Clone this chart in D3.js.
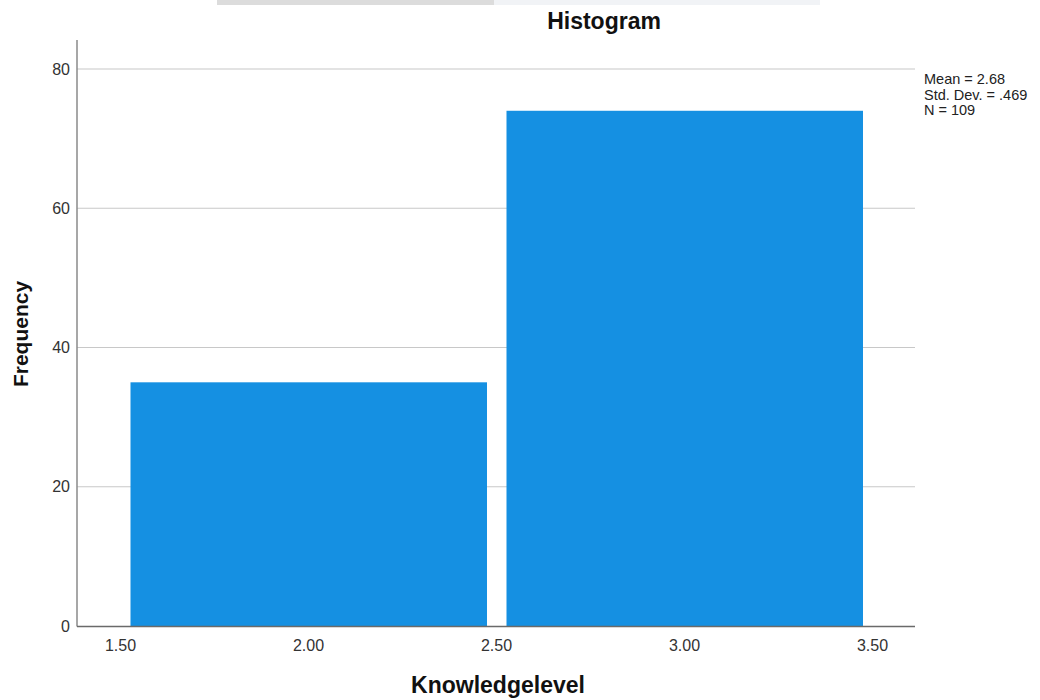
<!DOCTYPE html>
<html><head><meta charset="utf-8">
<script src="https://cdn.jsdelivr.net/npm/d3@7/dist/d3.min.js"></script>
<style>body{margin:0;background:#fff;} text{font-family:"Liberation Sans",Arial,sans-serif;}</style>
</head><body><svg id="c" width="1040" height="700"></svg>
<script>
const binStarts = [1.5, 2.5];
const binEnds = [2.5, 3.5];
const frequencies = [35, 74];
const xTicks = [1.5, 2.0, 2.5, 3.0, 3.5];
const yTicks = [0, 20, 40, 60, 80];
const statsLines = ["Mean = 2.68", "Std. Dev. = .469", "N = 109"];

const svg = d3.select("#c");
// screenshot artifact at top
svg.append("rect").attr("x",217).attr("y",0).attr("width",277).attr("height",5).attr("fill","#dcdcdc");
svg.append("rect").attr("x",494).attr("y",0).attr("width",326).attr("height",5).attr("fill","#f1f3f6");

const x = d3.scaleLinear().domain([1.5,3.5]).range([120.5,872.5]);
const y = d3.scaleLinear().domain([0,80]).range([626,69]);
const left=77, right=915;

// gridlines
svg.append("g").selectAll("line").data(yTicks.filter(d=>d>0)).join("line")
  .attr("x1",left).attr("x2",right).attr("y1",d=>y(d)).attr("y2",d=>y(d))
  .attr("stroke","#c8c8c8").attr("stroke-width",1.2);

// bars
svg.append("g").selectAll("rect").data(frequencies).join("rect")
  .attr("x",(d,i)=>x(binStarts[i])+10)
  .attr("width",(d,i)=>x(binEnds[i])-x(binStarts[i])-19.5)
  .attr("y",d=>y(d)).attr("height",d=>y(0)-y(d))
  .attr("fill","#1590e2");

// axes lines
svg.append("line").attr("x1",left).attr("x2",left).attr("y1",40).attr("y2",626.5).attr("stroke","#8a8a8a").attr("stroke-width",1.5);
svg.append("line").attr("x1",left).attr("x2",right).attr("y1",626.5).attr("y2",626.5).attr("stroke","#6a6a6a").attr("stroke-width",1.5);

// y tick labels
svg.append("g").selectAll("text").data(yTicks).join("text")
  .attr("x",70).attr("y",d=>y(d)+5.5).attr("text-anchor","end")
  .attr("font-size",16).attr("fill","#333").text(d=>d);
// x tick labels
svg.append("g").selectAll("text").data(xTicks).join("text")
  .attr("x",d=>x(d)).attr("y",651).attr("text-anchor","middle")
  .attr("font-size",16).attr("fill","#333").text(d=>d3.format(".2f")(d));

svg.append("text").attr("x",604).attr("y",29).attr("text-anchor","middle")
  .attr("font-size",23).attr("font-weight","bold").attr("fill","#111").text("Histogram");
svg.append("text").attr("transform","translate(28,334) rotate(-90)").attr("text-anchor","middle")
  .attr("font-size",21).attr("font-weight","bold").attr("fill","#111").text("Frequency");
svg.append("text").attr("x",498).attr("y",693).attr("text-anchor","middle")
  .attr("font-size",23).attr("font-weight","bold").attr("fill","#111").text("Knowledgelevel");

svg.append("g").selectAll("text").data(statsLines).join("text")
  .attr("x",924).attr("y",(d,i)=>84+i*15.5).attr("font-size",14.5).attr("fill","#222").text(d=>d);
</script></body></html>
